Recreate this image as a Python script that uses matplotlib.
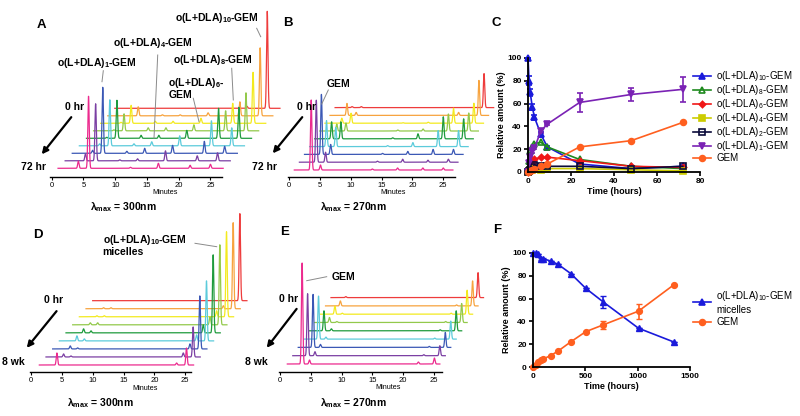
import numpy as np
import matplotlib.pyplot as plt
from matplotlib.lines import Line2D
from matplotlib.patches import FancyArrowPatch

plt.rcParams['font.family'] = ['Liberation Sans', 'DejaVu Sans']
plt.rcParams['mathtext.default'] = 'regular'

W, H = 800, 416

# ---------------- data ----------------
# chromatogram traces, front (last time point) to back (0 hr)
trace_colors = ['#ec2a8e', '#7b3fa3', '#3b58b5', '#5ccbdb', '#1f9b3d',
                '#93c94b', '#f3ea1f', '#f7a33e', '#ee3c3c']

# A: 300 nm, species GEM, o1, o2, o4, o6, o8, o10 (min)
A_rt = [4.2, 5.8, 9.6, 12.4, 16.8, 21.8, 25.0]
A_heights = [
    [7, 72, 0, 1, 5, 3, 4],
    [7, 57, 1, 2, 10, 5, 8],
    [3, 66, 2, 5, 8, 12, 7],
    [2, 46, 2, 4, 10, 25, 18],
    [1, 38, 3, 3, 8, 30, 31],
    [1, 17, 3, 3, 6, 20, 38],
    [1, 18, 2, 2, 5, 20, 51],
    [0, 9, 1, 1, 3, 14, 68],
    [0, 0, 0, 0, 0, 2, 97],
]

# B: 270 nm, species GEM, o1, o2, o6, o8, o10
B_rt = [3.6, 5.1, 13.5, 17.6, 21.7, 25.0]
B_heights = [
    [70, 5, 1, 2, 2, 2],
    [62, 10, 1, 3, 2, 3],
    [60, 10, 1, 3, 5, 5],
    [26, 19, 1, 4, 16, 16],
    [17, 17, 1, 5, 22, 20],
    [7, 8, 1, 2, 17, 18],
    [5, 10, 0.5, 1, 15, 20],
    [12, 3, 0, 0, 3, 35],
    [1, 1, 0, 0, 0, 34],
]

# D: micelles, 300 nm
D_rt = [4.2, 5.4, 23.6, 25.2]
D_heights = [
    [12, 0, 2, 17],
    [3, 1, 4, 30],
    [3, 1, 5, 53],
    [5, 2, 6, 60],
    [4, 2, 8, 78],
    [2, 2, 8, 80],
    [1, 1, 6, 85],
    [1, 1, 3, 86],
    [0, 0, 0, 87],
]

# E: micelles, 270 nm
E_rt = [3.6, 4.8, 22.5, 25.1]
E_heights = [
    [101, 4, 2, 6],
    [62, 4, 1, 10],
    [53, 3, 1, 15],
    [43, 2, 1, 18],
    [20, 2, 1, 20],
    [5, 1, 1, 19],
    [8, 1, 1, 24],
    [5, 0, 1, 25],
    [1, 0, 0, 25],
]

# C: degradation of o(L+DLA)10-GEM (hours)
C_time = [0, 0.5, 1, 2, 3, 6, 9, 24, 48, 72]
C_o10 = [100, 80, 70, 57, 48, 33, 22, 7, 3, 5]
C_o10_err = [0, 4, 3, 3, 2, 2, 1, 1, 1, 1]
C_o8 = [0, 10, 18, 22, 25, 26, 22, 11, 5, 3]
C_o6 = [0, 2, 4, 8, 11, 13, 13, 10, 5, 4]
C_o4 = [0, 1, 2, 2, 3, 2, 3, 3, 2, 1]
C_o2 = [0, 1, 2, 4, 6, 5, 5, 5, 3, 5]
C_o1 = [0, 8, 13, 18, 21, 36, 42, 61, 68, 72.5]
C_o1_err = [0, 1, 1, 1, 1, 2, 1, 8.5, 5.5, 11]
C_gem = [0, 0.5, 1, 2, 3, 5, 7, 22, 27.5, 43.5]

# F: micelles (hours)
F_time = [0, 24, 48, 72, 96, 168, 240, 360, 504, 672, 1008, 1344]
F_micelle = [100, 100, 99, 95, 95, 93, 90, 82, 69, 57, 34, 22]
F_micelle_err = [0, 0, 0, 1, 1, 0, 0, 0, 0, 5, 0, 0]
F_gem = [0, 2, 4, 6, 7, 10, 14, 22, 31, 37, 49, 72]
F_gem_err = [0, 0, 0, 0, 0, 0, 0, 0, 0, 3.5, 6.5, 0]


# ---------------- helpers ----------------
def fig_rect(left, top, right, bottom):
    return [left / W, 1 - bottom / H, (right - left) / W, (bottom - top) / H]


def P(x, y):
    return (x / W, 1 - y / H)


def label(x, y, s, size=7.5, ha='center', va='center', weight='bold', **kw):
    fig.text(x / W, 1 - y / H, s, fontsize=size, ha=ha, va=va,
             fontweight=weight, **kw)


def leader(x1, y1, x2, y2):
    fig.add_artist(Line2D([x1 / W, x2 / W], [1 - y1 / H, 1 - y2 / H],
                          transform=fig.transFigure, color='#8a8a8a', lw=0.7))


def arrow(x1, y1, x2, y2):
    fig.add_artist(FancyArrowPatch(P(x1, y1), P(x2, y2), transform=fig.transFigure,
                                   arrowstyle='-|>', mutation_scale=9, lw=1.6,
                                   color='black'))


def chrom(left, right, top, x0, ppm, axis_y, base, dx, dy, t0, tlen, rt, heights,
          end, sigma=0.11):
    ax = fig.add_axes(fig_rect(left, top, right, axis_y))
    ax.set_xlim((left - x0) / ppm, (right - x0) / ppm)
    ax.set_ylim(0, axis_y - top)
    dxm = dx / ppm
    for i in range(len(heights) - 1, -1, -1):
        xs = np.linspace(t0, t0 + tlen, 2000) + i * dxm
        ys = np.full_like(xs, base + i * dy)
        for r, h in zip(rt, heights[i]):
            ys += h * np.exp(-0.5 * ((xs - r - i * dxm) / sigma) ** 2)
        ax.plot(xs, ys, color=trace_colors[i], lw=0.9, clip_on=False)
    for s in ['left', 'right', 'top']:
        ax.spines[s].set_visible(False)
    ax.spines['bottom'].set_bounds(-0.2, end)
    ax.spines['bottom'].set_linewidth(1.0)
    ax.set_xticks(range(0, 30, 5))
    ax.set_yticks([])
    ax.tick_params(axis='x', labelsize=5.5, length=2.5, width=0.8, pad=1)
    ax.set_xlabel('Minutes', fontsize=5.2, labelpad=0.5)
    ax.patch.set_visible(False)
    return ax


def style_xy(ax):
    for s in ['right', 'top']:
        ax.spines[s].set_visible(False)
    for s in ['left', 'bottom']:
        ax.spines[s].set_linewidth(1.3)
    ax.tick_params(length=3, width=1.2, labelsize=6, pad=1.5)
    for t in ax.get_xticklabels() + ax.get_yticklabels():
        t.set_fontweight('bold')
    ax.set_ylabel('Relative amount (%)', fontsize=6.5, fontweight='bold', labelpad=1)
    ax.set_xlabel('Time (hours)', fontsize=6.5, fontweight='bold', labelpad=1.5)
    ax.patch.set_visible(False)


def key(col, mk, mfc, ms):
    return Line2D([], [], color=col, marker=mk, mfc=mfc, mec=col, ms=ms, mew=1.2, lw=1.2)


fig = plt.figure(figsize=(8, 4.16), dpi=100)

# ---------------- chromatograms ----------------
chrom(49, 282, 5, 51.7, 6.35, 176.7, 8.4, 7.1, 7.5, 1.0, 26.0, A_rt, A_heights, 26.8)
chrom(286, 500, 5, 289, 6.17, 176.7, 6.7, 5.1, 7.8, 0.86, 25.7, B_rt, B_heights, 26.9)
chrom(28, 262, 205, 31, 6.17, 372.3, 7.3, 6.67, 8.04, 1.35, 25.0, D_rt, D_heights, 26.0)
chrom(277, 500, 205, 280, 6.15, 371.7, 7.7, 5.46, 8.3, 1.19, 24.8, E_rt, E_heights, 26.3)

# ---------------- C ----------------
axC = fig.add_axes(fig_rect(528, 58, 700, 172))
c_series = [
    (C_o10, C_o10_err, '#1a1adb', '^', '#1a1adb', 'o(L+DLA)$_{10}$-GEM'),
    (C_o8, None, '#1f8a1f', '^', 'none', 'o(L+DLA)$_8$-GEM'),
    (C_o6, None, '#f01818', 'D', '#f01818', 'o(L+DLA)$_6$-GEM'),
    (C_o4, None, '#cccc00', 's', '#cccc00', 'o(L+DLA)$_4$-GEM'),
    (C_o2, None, '#0a0a3a', 's', 'none', 'o(L+DLA)$_2$-GEM'),
    (C_o1, C_o1_err, '#7a22b4', 'v', '#7a22b4', 'o(L+DLA)$_1$-GEM'),
    (C_gem, None, '#ff5f1f', 'o', '#ff5f1f', 'GEM'),
]
c_keys, c_labels = [], []
for vals, err, col, mk, mfc, lab in c_series:
    ms = 3.2 if mk == 'D' else 4.2
    axC.errorbar(C_time, vals, yerr=err, color=col, marker=mk, mfc=mfc, mec=col,
                 ms=ms, mew=1.2, lw=1.2, capsize=2.5, elinewidth=1.2,
                 clip_on=False)
    c_keys.append(key(col, mk, mfc, ms))
    c_labels.append(lab)
axC.set_xlim(0, 80)
axC.set_ylim(0, 100)
axC.set_xticks([0, 20, 40, 60, 80])
axC.set_yticks([0, 20, 40, 60, 80, 100])
style_xy(axC)
axC.legend(c_keys, c_labels, loc='upper left', bbox_to_anchor=P(693, 69),
           bbox_transform=fig.transFigure, frameon=False, fontsize=7,
           handlelength=1.9, handletextpad=0.5, labelspacing=0.0,
           borderaxespad=0, borderpad=0)

# ---------------- F ----------------
axF = fig.add_axes(fig_rect(533, 253, 690, 367))
axF.errorbar(F_time, F_micelle, yerr=F_micelle_err, color='#1a1adb', marker='^',
             ms=4.2, lw=1.2, capsize=2.5, elinewidth=1.2, clip_on=False)
axF.errorbar(F_time, F_gem, yerr=F_gem_err, color='#ff5f1f', marker='o',
             ms=4.2, lw=1.2, capsize=2.5, elinewidth=1.2, clip_on=False)
axF.set_xlim(0, 1500)
axF.set_ylim(0, 100)
axF.set_xticks([0, 500, 1000, 1500])
axF.set_yticks([0, 20, 40, 60, 80, 100])
style_xy(axF)
axF.legend([key('#1a1adb', '^', '#1a1adb', 4.2), key('#ff5f1f', 'o', '#ff5f1f', 4.2)],
           ['o(L+DLA)$_{10}$-GEM\nmicelles', 'GEM'], loc='upper left',
           bbox_to_anchor=P(693, 289), bbox_transform=fig.transFigure,
           frameon=False, fontsize=7, handlelength=1.9, handletextpad=0.5,
           labelspacing=0.25, borderaxespad=0, borderpad=0)

# ---------------- annotations ----------------
for x, y, s in [(41.7, 25, 'A'), (288.3, 23.3, 'B'), (496.7, 23.3, 'C'),
                (38.3, 235, 'D'), (285, 231.7, 'E'), (496.7, 230, 'F')]:
    label(x, y, s, size=9.5)

# A
label(216.7, 18.3, 'o(L+DLA)$_{10}$-GEM')
leader(256.7, 28.3, 260.7, 36.7)
label(153.3, 42.7, 'o(L+DLA)$_4$-GEM')
leader(157.7, 55, 154, 138.3)
label(96.7, 63.3, 'o(L+DLA)$_1$-GEM')
leader(103.3, 70.7, 102, 81.7)
label(213.3, 60, 'o(L+DLA)$_8$-GEM')
leader(231.7, 68.3, 233.3, 100)
label(168.3, 75.5, 'o(L+DLA)$_6$-\nGEM', ha='left', va='top', linespacing=1.05)
leader(193.3, 98.3, 199, 121.7)
label(75, 106.7, '0 hr')
arrow(73, 115, 40, 156.5)
label(33.3, 166.7, '72 hr')
label(123.3, 207, r'$\lambda_{max}$ = 300nm')

# B
label(338.3, 84.3, 'GEM')
leader(328.3, 90, 321.7, 104)
label(306.7, 106.7, '0 hr')
arrow(304, 115, 271, 155.5)
label(265, 166.7, '72 hr')
label(353.3, 207, r'$\lambda_{max}$ = 270nm')

# D
label(102.7, 233, 'o(L+DLA)$_{10}$-GEM\nmicelles', ha='left', va='top', linespacing=1.05)
leader(195, 243.3, 216.7, 246.7)
label(53.3, 300, '0 hr')
arrow(58.3, 309, 25, 350)
label(13.3, 361.7, '8 wk')
label(100, 402.7, r'$\lambda_{max}$ = 300nm')

# E
label(343.3, 276.7, 'GEM')
leader(326.7, 276.7, 306.7, 280.7)
label(288.3, 299.3, '0 hr')
arrow(298.3, 306.7, 265, 350)
label(256.7, 361.7, '8 wk')
label(353.3, 402.7, r'$\lambda_{max}$ = 270nm')

fig.savefig('out.png', dpi=100, facecolor='white')
